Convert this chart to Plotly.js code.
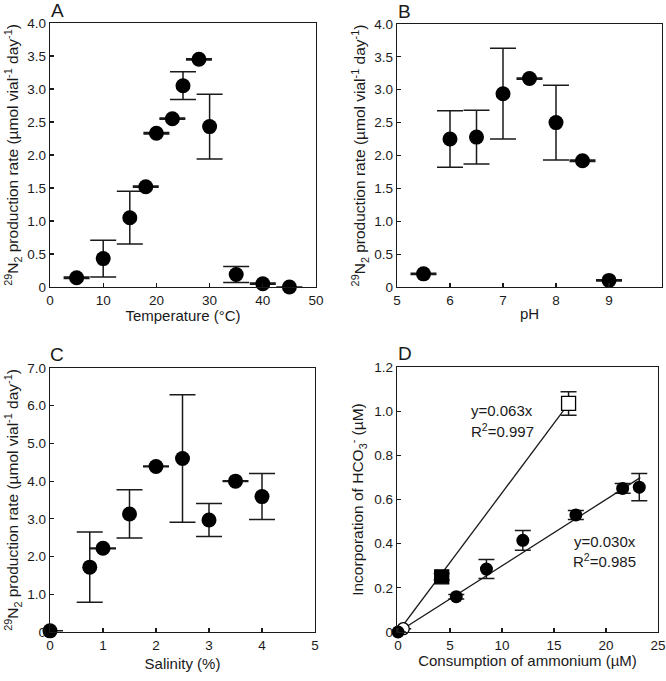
<!DOCTYPE html>
<html>
<head>
<meta charset="utf-8">
<script src="https://cdn.plot.ly/plotly-3.0.1.min.js"></script>
<style>
  body { margin: 0; background: #fff; }
  #chart { width: 666px; height: 681px; }
</style>
</head>
<body>
<div id="chart"></div>
<script>
// Panel A: temperature
const tempX = [5, 10, 15, 18, 20, 23, 25, 28, 30, 35, 40, 45];
const tempY = [0.14, 0.43, 1.05, 1.52, 2.33, 2.55, 3.05, 3.45, 2.43, 0.19, 0.05, 0.0];
const tempErr = [0.01, 0.28, 0.40, 0.01, 0.01, 0.01, 0.21, 0.01, 0.49, 0.12, 0.01, 0.0];

// Panel B: pH
const phX = [5.5, 6, 6.5, 7, 7.5, 8, 8.5, 9];
const phY = [0.2, 2.25, 2.28, 2.94, 3.17, 2.5, 1.92, 0.1];
const phErr = [0.01, 0.43, 0.41, 0.69, 0.01, 0.57, 0.01, 0.01];

// Panel C: salinity
const salX = [0, 0.75, 1, 1.5, 2, 2.5, 3, 3.5, 4];
const salY = [0.03, 1.72, 2.22, 3.13, 4.39, 4.6, 2.97, 4.0, 3.59];
const salErr = [0, 0.93, 0.01, 0.64, 0.01, 1.69, 0.44, 0.01, 0.61];

// Panel D: ammonium consumption vs bicarbonate incorporation
const ammCircleX = [0, 5.6, 8.5, 12, 17.1, 21.6, 23.2];
const ammCircleY = [0, 0.16, 0.285, 0.415, 0.53, 0.65, 0.656];
const ammCircleErr = [0, 0.01, 0.043, 0.045, 0.02, 0.022, 0.062];
const ammSquareX = [0.5, 4.2, 16.4];
const ammSquareY = [0.015, 0.25, 1.035];
const ammSquareErr = [0, 0.015, 0.053];
const fitSquareX = [0, 16.3];
const fitSquareY = [0, 1.027];
const fitCircleX = [0, 23.3];
const fitCircleY = [0, 0.699];

// tick labels
const yTicksAB = [0, 0.5, 1, 1.5, 2, 2.5, 3, 3.5, 4];
const yTextAB = ['0', '0.5', '1.0', '1.5', '2.0', '2.5', '3.0', '3.5', '4.0'];
const yTicksC = [0, 1, 2, 3, 4, 5, 6, 7];
const yTextC = ['0', '1.0', '2.0', '3.0', '4.0', '5.0', '6.0', '7.0'];
const yTicksD = [0, 0.2, 0.4, 0.6, 0.8, 1.0, 1.2];
const yTextD = ['0', '0.2', '0.4', '0.6', '0.8', '1.0', '1.2'];

const W = 666, H = 681;
const ink = '#1a1a1a';
const font = 'Liberation Sans, Arial, sans-serif';

function dx(l, r) { return [l / W, r / W]; }
function dy(t, b) { return [1 - b / H, 1 - t / H]; }

function axisBase(domain, range) {
    return {
        domain: domain,
        range: range,
        showline: true,
        mirror: true,
        linecolor: ink,
        linewidth: 1.3,
        ticks: 'inside',
        ticklen: 4,
        tickwidth: 1.2,
        tickcolor: ink,
        showgrid: false,
        zeroline: false,
        tickfont: { family: font, size: 13.5, color: ink },
        fixedrange: true
    };
}

function dots(x, y, err, xa, ya, size, cap) {
    return {
        x: x, y: y, xaxis: xa, yaxis: ya,
        type: 'scatter', mode: 'markers',
        cliponaxis: false,
        marker: { symbol: 'circle', size: size, color: '#000' },
        error_y: { type: 'data', array: err, visible: true, color: ink, thickness: 1.5, width: cap },
        showlegend: false, hoverinfo: 'skip'
    };
}

const yTitle = '<sup>29</sup>N<sub>2</sub> production rate (µmol vial<sup>-1</sup> day<sup>-1</sup>)';
const xFont = { family: font, size: 15, color: ink };
const yFont = { family: font, size: 15.5, color: ink };

const data = [
    dots(tempX, tempY, tempErr, 'x', 'y', 15, 13),
    dots(phX, phY, phErr, 'x2', 'y2', 15, 13),
    dots(salX, salY, salErr, 'x3', 'y3', 15, 13),
    {
        x: fitSquareX, y: fitSquareY, xaxis: 'x4', yaxis: 'y4',
        type: 'scatter', mode: 'lines', cliponaxis: false,
        line: { color: ink, width: 1.3 }, showlegend: false, hoverinfo: 'skip'
    },
    {
        x: fitCircleX, y: fitCircleY, xaxis: 'x4', yaxis: 'y4',
        type: 'scatter', mode: 'lines', cliponaxis: false,
        line: { color: ink, width: 1.3 }, showlegend: false, hoverinfo: 'skip'
    },
    {
        x: ammSquareX, y: ammSquareY, xaxis: 'x4', yaxis: 'y4',
        type: 'scatter', mode: 'markers', cliponaxis: false,
        marker: {
            symbol: ['circle', 'square', 'square'],
            size: [12, 14, 14],
            color: ['#fff', '#000', '#fff'],
            opacity: 1,
            line: { color: '#000', width: 1.3 }
        },
        error_y: { type: 'data', array: ammSquareErr, visible: true, color: ink, thickness: 1.5, width: 8 },
        showlegend: false, hoverinfo: 'skip'
    },
    dots(ammCircleX, ammCircleY, ammCircleErr, 'x4', 'y4', 13, 8)
];

const xa = axisBase(dx(50, 316), [0, 50]);
xa.tickvals = [0, 10, 20, 30, 40, 50];
xa.title = { text: 'Temperature (°C)', font: xFont, standoff: 2 };
const ya = axisBase(dy(23, 287), [0, 4]);
ya.tickvals = yTicksAB; ya.ticktext = yTextAB;
ya.title = { text: yTitle, font: yFont, standoff: 4 };

const xb = axisBase(dx(397, 662), [5, 10]);
xb.tickvals = [5, 6, 7, 8, 9, 10];
xb.title = { text: 'pH', font: xFont, standoff: 2 };
const yb = axisBase(dy(24, 287), [0, 4]);
yb.tickvals = yTicksAB; yb.ticktext = yTextAB;
yb.title = { text: yTitle, font: yFont, standoff: 4 };

const xc = axisBase(dx(50, 315), [0, 5]);
xc.tickvals = [0, 1, 2, 3, 4, 5];
xc.title = { text: 'Salinity (%)', font: xFont, standoff: 7 };
const yc = axisBase(dy(368, 632), [0, 7]);
yc.tickvals = yTicksC; yc.ticktext = yTextC;
yc.title = { text: yTitle, font: yFont, standoff: 4 };

const xd = axisBase(dx(397, 658), [-0.1, 25]);
xd.tickvals = [0, 5, 10, 15, 20, 25];
xd.title = { text: 'Consumption of ammonium (µM)', font: xFont, standoff: 2 };
const yd = axisBase(dy(367, 632), [0, 1.2]);
yd.tickvals = yTicksD; yd.ticktext = yTextD;
yd.title = { text: 'Incorporation of HCO<sub>3</sub><sup>-</sup> (µM)', font: yFont, standoff: 6 };

function letter(t, x, y) {
    return {
        text: t, xref: 'paper', yref: 'paper', x: x / W, y: 1 - y / H,
        xanchor: 'left', yanchor: 'bottom', showarrow: false,
        font: { family: font, size: 19, color: ink }
    };
}
function note(t, x, y) {
    return {
        text: t, xref: 'x4', yref: 'y4', x: x, y: y,
        xanchor: 'center', yanchor: 'middle', showarrow: false,
        font: { family: font, size: 15, color: ink }
    };
}

const layout = {
    width: W, height: H,
    margin: { l: 0, r: 0, t: 0, b: 0 },
    paper_bgcolor: '#fff', plot_bgcolor: '#fff',
    font: { family: font, color: ink },
    xaxis: Object.assign(xa, { anchor: 'y' }),
    yaxis: Object.assign(ya, { anchor: 'x' }),
    xaxis2: Object.assign(xb, { anchor: 'y2' }),
    yaxis2: Object.assign(yb, { anchor: 'x2' }),
    xaxis3: Object.assign(xc, { anchor: 'y3' }),
    yaxis3: Object.assign(yc, { anchor: 'x3' }),
    xaxis4: Object.assign(xd, { anchor: 'y4' }),
    yaxis4: Object.assign(yd, { anchor: 'x4' }),
    annotations: [
        letter('A', 49, 23),
        letter('B', 396, 24),
        letter('C', 48, 367),
        letter('D', 396, 366),
        note('y=0.063x', 10.0, 1.005),
        note('R<sup>2</sup>=0.997', 10.0, 0.912),
        note('y=0.030x', 19.9, 0.41),
        note('R<sup>2</sup>=0.985', 19.9, 0.322)
    ]
};

Plotly.newPlot('chart', data, layout, { displayModeBar: false, staticPlot: true });
</script>
</body>
</html>
